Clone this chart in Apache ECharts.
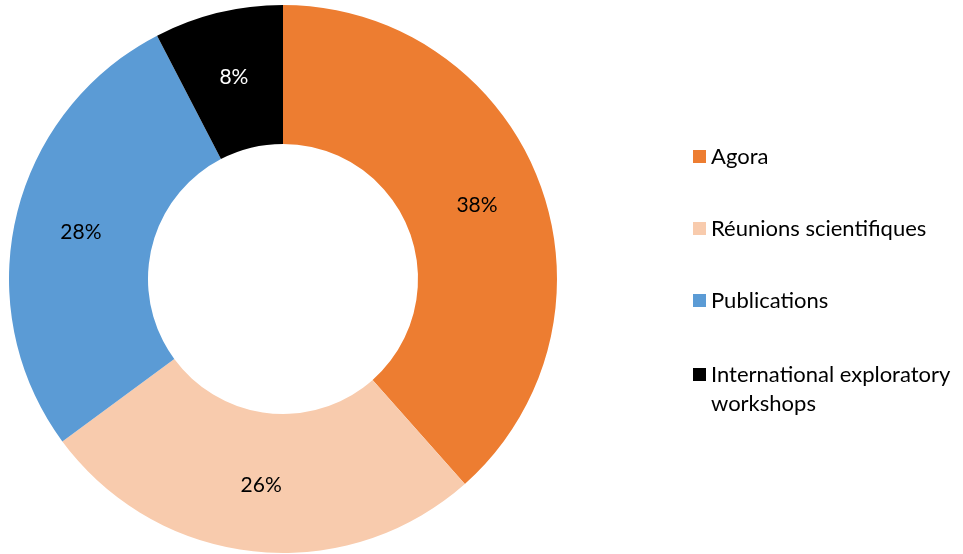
<!DOCTYPE html>
<html>
<head>
<meta charset="utf-8">
<script src="https://cdn.jsdelivr.net/npm/echarts@6/dist/echarts.min.js"></script>
<style>html,body{margin:0;padding:0;background:#fff;}#c{width:963px;height:554px;}</style>
</head>
<body>
<div id="c"></div>
<script>
var categories = ['Agora', 'Réunions scientifiques', 'Publications', 'International exploratory workshops'];
var values = [38.45, 26.45, 27.5, 7.6];
var colors = ['#ED7D31', '#F8CBAD', '#5B9BD5', '#000000'];
var labelColors = ['#000000', '#000000', '#000000', '#ffffff'];

var chart = echarts.init(document.getElementById('c'));
var data = categories.map(function (c, i) {
  return { name: c, value: values[i], itemStyle: { color: colors[i] }, label: { color: labelColors[i] } };
});
var font = 'Lato, "Noto Sans", sans-serif';
chart.setOption({
  animation: false,
  legend: [{
    orient: 'vertical',
    left: 688,
    top: 137,
    itemWidth: 13,
    itemHeight: 13,
    itemGap: 43,
    icon: 'rect',
    data: categories.slice(0, 3),
    textStyle: { fontFamily: font, fontSize: 22, color: '#000', lineHeight: 29 },
    selectedMode: false
  }, {
    orient: 'vertical',
    left: 688,
    top: 326,
    itemWidth: 13,
    itemHeight: 13,
    icon: 'rect',
    data: [categories[3]],
    formatter: function () { return '\nInternational exploratory\nworkshops'; },
    textStyle: { fontFamily: font, fontSize: 22, color: '#000', lineHeight: 29 },
    selectedMode: false
  }],
  series: [{
    type: 'pie',
    center: [283, 279],
    radius: [135, 274],
    startAngle: 90,
    clockwise: true,
    data: data,
    label: {
      show: true,
      position: 'inside',
      formatter: function (p) { return Math.round(p.value) + '%'; },
      fontFamily: font,
      fontSize: 21
    },
    labelLine: { show: false },
    emphasis: { disabled: true }
  }]
});
</script>
</body>
</html>
